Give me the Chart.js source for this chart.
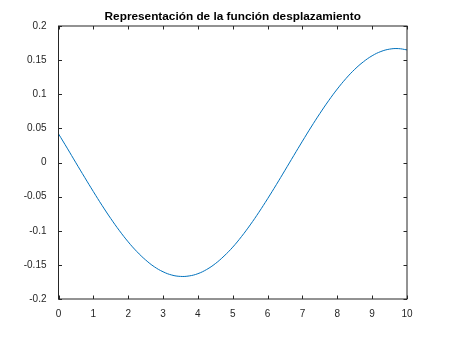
<!DOCTYPE html>
<html>
<head>
<meta charset="utf-8">
<script src="https://cdn.jsdelivr.net/npm/chart.js@4"></script>
<style>
  body { margin: 0; background: #fff; }
  canvas { display: block; }
</style>
</head>
<body>
<canvas id="desplChart" width="450" height="338"></canvas>
<script>
// valores
const xValues = [0, 0.25, 0.5, 0.75, 1, 1.25, 1.5, 1.75, 2, 2.25, 2.5, 2.75, 3, 3.25, 3.5, 3.75,
    4, 4.25, 4.5, 4.75, 5, 5.25, 5.5, 5.75, 6, 6.25, 6.5, 6.75, 7, 7.25, 7.5, 7.75,
    8, 8.25, 8.5, 8.75, 9, 9.25, 9.5, 9.75, 10];
const yValues = [0.042, 0.021, -0.0005, -0.0217, -0.0426, -0.0629, -0.0821, -0.1000, -0.1163, -0.1306,
    -0.1428, -0.1528, -0.1601, -0.1649, -0.1669, -0.1662, -0.1629, -0.1568, -0.1482, -0.1371,
    -0.1240, -0.1086, -0.0915, -0.0729, -0.0531, -0.0325, -0.0113, 0.0101, 0.0313, 0.0520,
    0.0718, 0.0905, 0.1077, 0.1231, 0.1365, 0.1476, 0.1564, 0.1626, 0.1661, 0.1669, 0.1650];
const xTicks = [0, 1, 2, 3, 4, 5, 6, 7, 8, 9, 10];
const yTicks = [-0.2, -0.15, -0.1, -0.05, 0, 0.05, 0.1, 0.15, 0.2];
const titleText = "Representación de la función desplazamiento";

const axisColor = "#262626";
const fontFamily = "Liberation Sans, Arial, sans-serif";

// caja, marcas hacia dentro y titulo centrado sobre los ejes, estilo MATLAB
const boxPlugin = {
    id: "boxTicks",
    afterDraw(chart) {
        const ctx = chart.ctx;
        const a = chart.chartArea;
        const xs = chart.scales.x, ys = chart.scales.y;
        const t = 3.5;
        ctx.save();
        ctx.strokeStyle = axisColor;
        ctx.lineWidth = 1;
        ctx.strokeRect(a.left, a.top, a.right - a.left, a.bottom - a.top);
        ctx.beginPath();
        xTicks.forEach(v => {
            const px = Math.round(xs.getPixelForValue(v)) + 0.5;
            ctx.moveTo(px, a.bottom); ctx.lineTo(px, a.bottom - t);
            ctx.moveTo(px, a.top); ctx.lineTo(px, a.top + t);
        });
        yTicks.forEach(v => {
            const py = Math.round(ys.getPixelForValue(v)) + 0.5;
            ctx.moveTo(a.left, py); ctx.lineTo(a.left + t, py);
            ctx.moveTo(a.right, py); ctx.lineTo(a.right - t, py);
        });
        ctx.stroke();

        ctx.fillStyle = "#000";
        ctx.font = "bold 11.8px " + fontFamily;
        ctx.textAlign = "center";
        ctx.textBaseline = "alphabetic";
        ctx.fillText(titleText, (a.left + a.right) / 2, a.top - 6);
        ctx.restore();
    }
};

const ctx = document.getElementById("desplChart").getContext("2d");
const chart = new Chart(ctx, {
    type: "line",
    data: {
        datasets: [{
            data: xValues.map((x, i) => ({ x: x, y: yValues[i] })),
            borderColor: "rgb(0, 114, 189)",
            borderWidth: 1,
            pointRadius: 0,
            tension: 0.4,
            fill: false
        }]
    },
    options: {
        responsive: false,
        animation: false,
        layout: {
            padding: { left: 0, right: 43, top: 26, bottom: 0 }
        },
        plugins: {
            legend: { display: false },
            tooltip: { enabled: false },
            title: { display: false }
        },
        scales: {
            x: {
                type: "linear",
                min: 0,
                max: 10,
                afterFit: s => { s.height = 39; },
                afterBuildTicks: s => { s.ticks = xTicks.map(v => ({ value: v })); },
                grid: { display: false },
                border: { display: false },
                ticks: {
                    color: axisColor,
                    padding: 1,
                    maxRotation: 0,
                    font: { family: fontFamily, size: 10 }
                }
            },
            y: {
                min: -0.2,
                max: 0.2,
                afterFit: s => { s.width = 58.5; },
                afterBuildTicks: s => { s.ticks = yTicks.map(v => ({ value: v })); },
                grid: { display: false },
                border: { display: false },
                ticks: {
                    color: axisColor,
                    padding: 4,
                    font: { family: fontFamily, size: 10 },
                    callback: v => String(parseFloat(v.toFixed(2)))
                }
            }
        }
    },
    plugins: [boxPlugin]
});
</script>
</body>
</html>
